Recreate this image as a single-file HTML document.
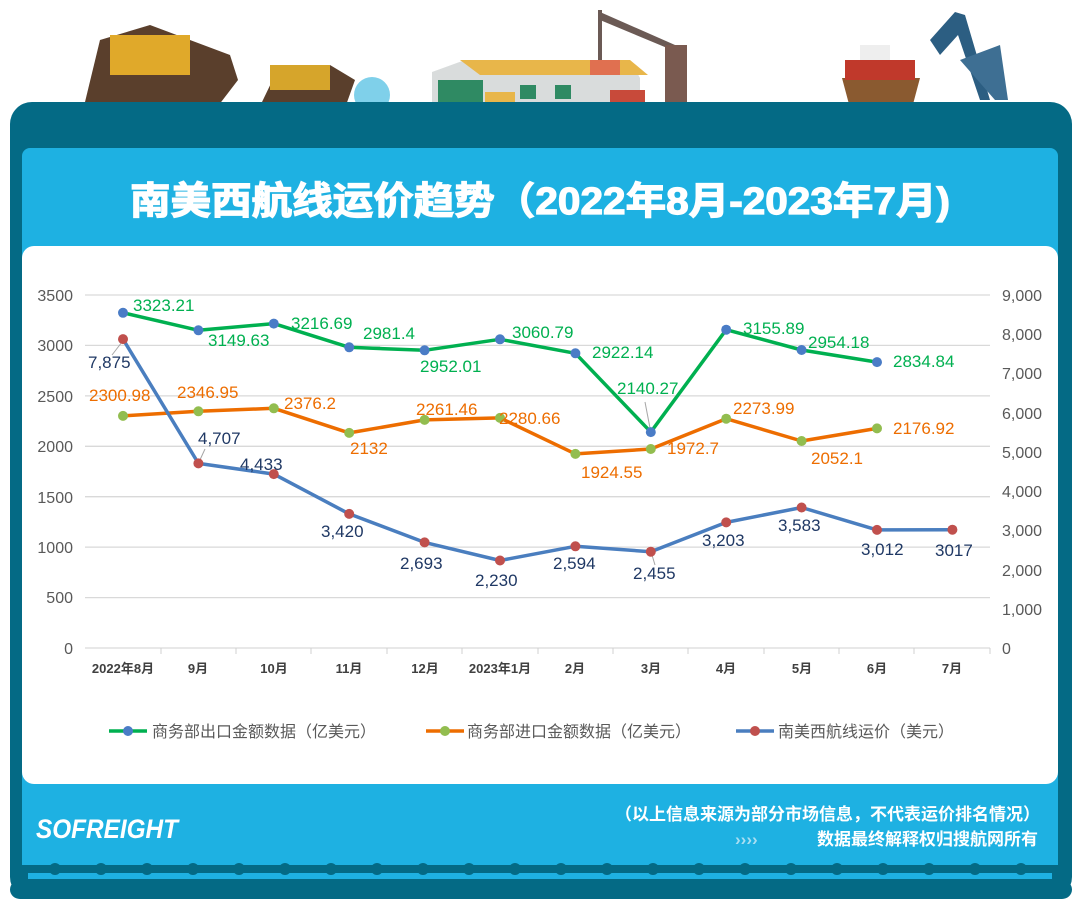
<!DOCTYPE html>
<html><head><meta charset="utf-8"><style>
html,body{margin:0;padding:0;background:#fff;}
body{width:1080px;height:915px;position:relative;overflow:hidden;font-family:"Liberation Sans","Noto Sans CJK SC",sans-serif;}
</style></head><body>
<svg width="1080" height="915" viewBox="0 0 1080 915" xmlns="http://www.w3.org/2000/svg" style="position:absolute;left:0;top:0">
<g>
<path d="M85 102 L100 40 L150 25 L230 55 L238 80 L215 110 Z" fill="#5a3f2c"/>
<rect x="110" y="35" width="80" height="40" fill="#e0a92a"/>
<path d="M262 102 L275 75 L330 65 L355 80 L345 108 Z" fill="#5a3f2c"/>
<rect x="270" y="65" width="60" height="25" fill="#d6a52b"/>
<circle cx="372" cy="95" r="18" fill="#7fd0ea"/>
<path d="M432 72 L465 60 L630 60 L640 78 L640 102 L432 102 Z" fill="#d9dcdc"/>
<path d="M460 60 L630 60 L648 75 L480 75 Z" fill="#e8b64a"/>
<rect x="438" y="80" width="45" height="22" fill="#2f8a63"/>
<rect x="520" y="85" width="16" height="14" fill="#2f8a63"/><rect x="555" y="85" width="16" height="14" fill="#2f8a63"/>
<rect x="485" y="92" width="30" height="12" fill="#e8b64a"/><rect x="610" y="90" width="35" height="14" fill="#c84a3a"/>
<rect x="598" y="10" width="4" height="58" fill="#6b5a55"/>
<path d="M600 12 L675 45 L672 50 L600 20Z" fill="#6b5a55"/>
<rect x="590" y="60" width="30" height="15" fill="#e07050"/>
<rect x="665" y="45" width="22" height="70" fill="#7a5a50"/>
<path d="M842 78 L920 78 L912 108 L850 108 Z" fill="#8a5a30"/>
<rect x="845" y="60" width="70" height="20" fill="#c0392b"/>
<rect x="860" y="45" width="30" height="15" fill="#eee"/>
<path d="M930 40 L955 12 L965 15 L990 100 L980 100 L958 35 L940 55Z" fill="#2c5e82"/>
<path d="M960 60 L1000 45 L1008 100 L995 100Z" fill="#3e6f93"/>
</g>
<rect x="10" y="102" width="1062" height="797" rx="22" fill="#046a85"/>
<rect x="22" y="148" width="1036" height="730" rx="8" fill="#1eb1e2"/>
<rect x="22" y="868" width="1036" height="30" fill="#046a85"/>
<rect x="28" y="873" width="1024" height="6" fill="#1eb1e2"/>
<rect x="22" y="865" width="1036" height="5" fill="#046a85"/>
<rect x="10" y="880" width="1062" height="19" rx="10" fill="#046a85"/>
<text x="540" y="214" text-anchor="middle" font-size="38" font-weight="bold" fill="#ffffff" stroke="#ffffff" stroke-width="1.2" font-family="Liberation Sans,'Noto Sans CJK SC',sans-serif" textLength="820" lengthAdjust="spacingAndGlyphs">南美西航线运价趋势（2022年8月-2023年7月)</text>
<rect x="22" y="246" width="1036" height="538" rx="12" fill="#ffffff"/>
<g stroke="#d9d9d9" stroke-width="1.3">
<line x1="85" x2="990" y1="295" y2="295"/><line x1="85" x2="990" y1="345.4" y2="345.4"/>
<line x1="85" x2="990" y1="395.9" y2="395.9"/><line x1="85" x2="990" y1="446.3" y2="446.3"/>
<line x1="85" x2="990" y1="496.7" y2="496.7"/><line x1="85" x2="990" y1="547.1" y2="547.1"/>
<line x1="85" x2="990" y1="597.6" y2="597.6"/><line x1="85" x2="990" y1="648" y2="648"/>
</g>
<g stroke="#d0d0d0" stroke-width="1">
<line x1="161" x2="161" y1="648" y2="654"/><line x1="236" x2="236" y1="648" y2="654"/><line x1="311" x2="311" y1="648" y2="654"/><line x1="387" x2="387" y1="648" y2="654"/><line x1="462" x2="462" y1="648" y2="654"/><line x1="538" x2="538" y1="648" y2="654"/><line x1="613" x2="613" y1="648" y2="654"/><line x1="688" x2="688" y1="648" y2="654"/><line x1="764" x2="764" y1="648" y2="654"/><line x1="839" x2="839" y1="648" y2="654"/><line x1="914" x2="914" y1="648" y2="654"/><line x1="990" x2="990" y1="648" y2="654"/>
</g>
<g font-size="16" fill="#595959" text-anchor="end">
<text x="73" y="301">3500</text><text x="73" y="351">3000</text><text x="73" y="402">2500</text><text x="73" y="452">2000</text><text x="73" y="503">1500</text><text x="73" y="553">1000</text><text x="73" y="603">500</text><text x="73" y="654">0</text>
</g>
<g font-size="16" fill="#595959" text-anchor="start">
<text x="1002" y="301">9,000</text><text x="1002" y="340">8,000</text><text x="1002" y="379">7,000</text><text x="1002" y="419">6,000</text><text x="1002" y="458">5,000</text><text x="1002" y="497">4,000</text><text x="1002" y="536">3,000</text><text x="1002" y="576">2,000</text><text x="1002" y="615">1,000</text><text x="1002" y="654">0</text>
</g>
<g font-size="13" font-weight="bold" fill="#404040" text-anchor="middle">
<text x="123" y="673">2022年8月</text><text x="198" y="673">9月</text><text x="274" y="673">10月</text><text x="349" y="673">11月</text><text x="425" y="673">12月</text><text x="500" y="673">2023年1月</text><text x="575" y="673">2月</text><text x="651" y="673">3月</text><text x="726" y="673">4月</text><text x="802" y="673">5月</text><text x="877" y="673">6月</text><text x="952" y="673">7月</text>
</g>
<g stroke="#a6a6a6" stroke-width="1">
<line x1="112" y1="355" x2="122" y2="342"/><line x1="205" y1="449" x2="199" y2="462"/><line x1="352" y1="347" x2="380" y2="347"/><line x1="645" y1="402" x2="650" y2="428"/><line x1="652" y1="555" x2="655" y2="565"/>
</g>
<polyline fill="none" stroke="#00b050" stroke-width="3.5" stroke-linejoin="round" points="123,312.8 198.4,330.3 273.8,323.6 349.2,347.3 424.6,350.3 500,339.3 575.4,353.3 650.8,432.1 726.2,329.7 801.6,350 877,362.1"/>
<polyline fill="none" stroke="#ed6d00" stroke-width="3.5" stroke-linejoin="round" points="123,415.9 198.4,411.3 273.8,408.3 349.2,432.9 424.6,419.9 500,417.9 575.4,453.9 650.8,449 726.2,418.7 801.6,441 877,428.4"/>
<polyline fill="none" stroke="#4a7ebf" stroke-width="3.5" stroke-linejoin="round" points="123,339.1 198.4,463.4 273.8,474.1 349.2,513.9 424.6,542.4 500,560.5 575.4,546.3 650.8,551.7 726.2,522.4 801.6,507.5 877,529.9 952.4,529.7"/>
<g fill="#4a7cc6">
<circle cx="123" cy="312.8" r="5"/><circle cx="198.4" cy="330.3" r="5"/><circle cx="273.8" cy="323.6" r="5"/><circle cx="349.2" cy="347.3" r="5"/><circle cx="424.6" cy="350.3" r="5"/><circle cx="500" cy="339.3" r="5"/><circle cx="575.4" cy="353.3" r="5"/><circle cx="650.8" cy="432.1" r="5"/><circle cx="726.2" cy="329.7" r="5"/><circle cx="801.6" cy="350" r="5"/><circle cx="877" cy="362.1" r="5"/>
</g>
<g fill="#92bd4f">
<circle cx="123" cy="415.9" r="5"/><circle cx="198.4" cy="411.3" r="5"/><circle cx="273.8" cy="408.3" r="5"/><circle cx="349.2" cy="432.9" r="5"/><circle cx="424.6" cy="419.9" r="5"/><circle cx="500" cy="417.9" r="5"/><circle cx="575.4" cy="453.9" r="5"/><circle cx="650.8" cy="449" r="5"/><circle cx="726.2" cy="418.7" r="5"/><circle cx="801.6" cy="441" r="5"/><circle cx="877" cy="428.4" r="5"/>
</g>
<g fill="#c0504d">
<circle cx="123" cy="339.1" r="5"/><circle cx="198.4" cy="463.4" r="5"/><circle cx="273.8" cy="474.1" r="5"/><circle cx="349.2" cy="513.9" r="5"/><circle cx="424.6" cy="542.4" r="5"/><circle cx="500" cy="560.5" r="5"/><circle cx="575.4" cy="546.3" r="5"/><circle cx="650.8" cy="551.7" r="5"/><circle cx="726.2" cy="522.4" r="5"/><circle cx="801.6" cy="507.5" r="5"/><circle cx="877" cy="529.9" r="5"/><circle cx="952.4" cy="529.7" r="5"/>
</g>
<g font-size="17" fill="#00b050">
<text x="133" y="311">3323.21</text><text x="208" y="346">3149.63</text><text x="291" y="329">3216.69</text><text x="363" y="339">2981.4</text><text x="420" y="372">2952.01</text><text x="512" y="338">3060.79</text><text x="592" y="358">2922.14</text><text x="617" y="394">2140.27</text><text x="743" y="334">3155.89</text><text x="808" y="348">2954.18</text><text x="893" y="367">2834.84</text>
</g>
<g font-size="17" fill="#ed6d00">
<text x="89" y="401">2300.98</text><text x="177" y="398">2346.95</text><text x="284" y="409">2376.2</text><text x="350" y="454">2132</text><text x="416" y="415">2261.46</text><text x="499" y="424">2280.66</text><text x="581" y="478">1924.55</text><text x="667" y="454">1972.7</text><text x="733" y="414">2273.99</text><text x="811" y="464">2052.1</text><text x="893" y="434">2176.92</text>
</g>
<g font-size="17" fill="#1f3864">
<text x="88" y="368">7,875</text><text x="198" y="444">4,707</text><text x="240" y="470">4,433</text><text x="321" y="537">3,420</text><text x="400" y="569">2,693</text><text x="475" y="586">2,230</text><text x="553" y="569">2,594</text><text x="633" y="579">2,455</text><text x="702" y="546">3,203</text><text x="778" y="531">3,583</text><text x="861" y="555">3,012</text><text x="935" y="556">3017</text>
</g>
<g font-size="16" fill="#595959">
<line x1="109" x2="147" y1="731" y2="731" stroke="#00b050" stroke-width="3.5"/><circle cx="128" cy="731" r="5" fill="#4a7cc6"/>
<text x="152" y="737">商务部出口金额数据（亿美元）</text>
<line x1="426" x2="464" y1="731" y2="731" stroke="#ed6d00" stroke-width="3.5"/><circle cx="445" cy="731" r="5" fill="#92bd4f"/>
<text x="467" y="737">商务部进口金额数据（亿美元）</text>
<line x1="736" x2="774" y1="731" y2="731" stroke="#4a7ebf" stroke-width="3.5"/><circle cx="755" cy="731" r="5" fill="#c0504d"/>
<text x="778" y="737">南美西航线运价（美元）</text>
</g>
<text x="36" y="838" font-size="27" font-weight="bold" font-style="italic" fill="#ffffff" textLength="142" lengthAdjust="spacingAndGlyphs">SOFREIGHT</text>
<text x="1040" y="820" text-anchor="end" font-size="17" fill="#ffffff" font-weight="bold">（以上信息来源为部分市场信息，不代表运价排名情况）</text>
<text x="1038" y="845" text-anchor="end" font-size="17" fill="#ffffff" font-weight="bold">数据最终解释权归搜航网所有</text>
<text x="735" y="845" font-size="17" fill="#a9def2" font-weight="bold">››››</text>
<g fill="#046a85">
<circle cx="55" cy="869" r="6"/><circle cx="101" cy="869" r="6"/><circle cx="147" cy="869" r="6"/><circle cx="193" cy="869" r="6"/><circle cx="239" cy="869" r="6"/><circle cx="285" cy="869" r="6"/><circle cx="331" cy="869" r="6"/><circle cx="377" cy="869" r="6"/><circle cx="423" cy="869" r="6"/><circle cx="469" cy="869" r="6"/><circle cx="515" cy="869" r="6"/><circle cx="561" cy="869" r="6"/><circle cx="607" cy="869" r="6"/><circle cx="653" cy="869" r="6"/><circle cx="699" cy="869" r="6"/><circle cx="745" cy="869" r="6"/><circle cx="791" cy="869" r="6"/><circle cx="837" cy="869" r="6"/><circle cx="883" cy="869" r="6"/><circle cx="929" cy="869" r="6"/><circle cx="975" cy="869" r="6"/><circle cx="1021" cy="869" r="6"/>
</g>
</svg>
</body></html>
